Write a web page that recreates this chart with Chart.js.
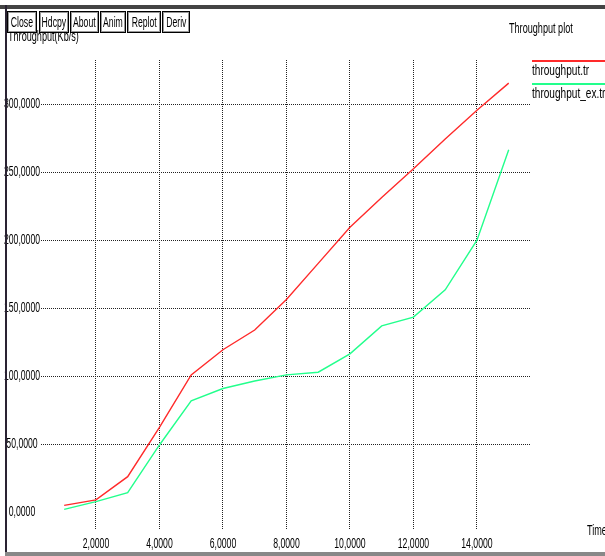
<!DOCTYPE html>
<html>
<head>
<meta charset="utf-8">
<script src="https://cdn.jsdelivr.net/npm/chart.js"></script>
<style>
  html, body { margin: 0; padding: 0; background: #fff; }
  #wrap { position: relative; width: 605px; height: 556px; overflow: hidden; }
  #plot { position: absolute; left: 0; top: 0; }
  .txt { position: absolute; font-family: 'Liberation Sans', sans-serif; font-size: 14px; color: #000; white-space: nowrap;
         transform: scaleX(0.65); transform-origin: left center; }
  .btn { position: absolute; top: 11px; height: 20px; border: 1px solid #000; box-shadow: inset 0 0 0 1px #999; background: #fff;
         font-family: 'Liberation Sans', sans-serif; font-size: 14px; line-height: 20px; text-align: center; z-index: 3; overflow: hidden; }
  .btn span { display: inline-block; transform: scaleX(0.62); transform-origin: center; margin: 0 -12px; }
  .frameTop { position: absolute; left: 0; top: 5px; width: 605px; height: 4px; background: #444; z-index: 4; }
  .frameLeft { position: absolute; left: 5px; top: 5px; width: 2px; height: 551px; background: #2a2333; z-index: 4; }
  .frameBottom { position: absolute; left: 5px; top: 552px; width: 600px; height: 4px; background: #888; z-index: 4; }
</style>
</head>
<body>
<div id="wrap">
  <canvas id="plot" width="605" height="556"></canvas>
  <div class="frameTop"></div>
  <div class="frameLeft"></div>
  <div class="frameBottom"></div>
  <div class="btn" style="left:7px;width:28px"><span>Close</span></div>
  <div class="btn" style="left:39px;width:28px"><span>Hdcpy</span></div>
  <div class="btn" style="left:70px;width:27px"><span>About</span></div>
  <div class="btn" style="left:100px;width:24px"><span>Anim</span></div>
  <div class="btn" style="left:127px;width:32px"><span>Replot</span></div>
  <div class="btn" style="left:162px;width:26px"><span>Deriv</span></div>
  <div class="txt" style="left:8px;top:28px;z-index:2">Throughput(Kb/s)</div>
  <div class="txt" style="left:509px;top:20px">Throughput plot</div>
  <div class="txt" style="left:587px;top:522px">Time</div>
</div>
<script>
// ---- data ----
const timeValues = [1, 2, 3, 4, 5, 6, 7, 8, 9, 10, 11, 12, 13, 14, 15];
const throughputTr = [5.6, 9.6, 26.7, 63, 101.5, 120, 134.5, 157, 183.5, 210, 232, 253, 275, 296, 316];
const throughputExTr = [2.7, 8.4, 15, 50, 82.5, 91.5, 97, 101.5, 103.5, 117, 137.5, 144, 164, 200.5, 267];
const xTicks = [2, 4, 6, 8, 10, 12, 14];
const yTicks = [0, 50, 100, 150, 200, 250, 300];

const FONT = "'Liberation Sans', sans-serif";
const SQUEEZE = 0.62; // narrow X-style font look

function fmt(v) {
  return v.toFixed(4).replace('.', ',');
}

function squeezed(ctx, text, x, y, k) {
  ctx.save();
  ctx.translate(x, y);
  ctx.scale(k, 1);
  ctx.fillText(text, 0, 0);
  ctx.restore();
}

// tick labels drawn narrow, positions from the chart's own scales
const tickText = {
  id: 'tickText',
  afterDraw(chart) {
    const ctx = chart.ctx;
    const xs = chart.scales.x, ys = chart.scales.y;
    ctx.save();
    ctx.font = '14px ' + FONT;
    ctx.fillStyle = '#000';
    ctx.textAlign = 'center';
    ctx.textBaseline = 'middle';
    xs.ticks.forEach(t => squeezed(ctx, fmt(t.value), xs.getPixelForValue(t.value), xs.top + 14, SQUEEZE));
    ys.ticks.forEach(t => squeezed(ctx, fmt(t.value), 22, ys.getPixelForValue(t.value) - 1, SQUEEZE));
    ctx.restore();
  }
};

// legend drawn to the right of the plot, line above each name
const sideLegend = {
  id: 'sideLegend',
  afterDraw(chart) {
    const ctx = chart.ctx;
    const x0 = chart.chartArea.right + 2;
    ctx.save();
    ctx.font = '14px ' + FONT;
    ctx.textBaseline = 'alphabetic';
    ctx.textAlign = 'left';
    chart.data.datasets.forEach(function(ds, i) {
      const y = 61 + i * 23;
      ctx.strokeStyle = ds.borderColor;
      ctx.lineWidth = 2;
      ctx.beginPath();
      ctx.moveTo(x0, y);
      ctx.lineTo(605, y);
      ctx.stroke();
      ctx.fillStyle = '#000';
      squeezed(ctx, ds.label, x0, y + 14, 0.72);
    });
    ctx.restore();
  }
};

new Chart(document.getElementById('plot').getContext('2d'), {
  type: 'line',
  data: {
    labels: timeValues,
    datasets: [
      {
        label: 'throughput.tr',
        data: timeValues.map((t, i) => ({ x: t, y: throughputTr[i] })),
        borderColor: '#ff2a2a',
        borderWidth: 1.4,
        pointRadius: 0,
        tension: 0,
        fill: false
      },
      {
        label: 'throughput_ex.tr',
        data: timeValues.map((t, i) => ({ x: t, y: throughputExTr[i] })),
        borderColor: '#22ff8c',
        borderWidth: 1.4,
        pointRadius: 0,
        tension: 0,
        fill: false
      }
    ]
  },
  options: {
    responsive: false,
    animation: false,
    layout: { padding: { left: 0, right: 75, top: 60, bottom: 0 } },
    plugins: {
      legend: { display: false },
      tooltip: { enabled: false }
    },
    scales: {
      x: {
        type: 'linear',
        min: 0.27,
        max: 15.67,
        afterBuildTicks: s => { s.ticks = xTicks.map(v => ({ value: v })); },
        afterFit: s => { s.height = 26; },
        border: { display: false, dash: [1, 1] },
        grid: {
          color: '#222',
          lineWidth: 1,
          drawTicks: false
        },
        ticks: { display: false }
      },
      y: {
        type: 'linear',
        min: -12.5,
        max: 333,
        afterBuildTicks: s => { s.ticks = yTicks.map(v => ({ value: v })); },
        afterFit: s => { s.width = 41; },
        border: { display: false, dash: [1, 1] },
        grid: {
          color: c => (c.tick && c.tick.value === 0 ? 'rgba(0,0,0,0)' : '#222'),
          lineWidth: 1,
          drawTicks: false
        },
        ticks: { display: false }
      }
    }
  },
  plugins: [tickText, sideLegend]
});
</script>
</body>
</html>
